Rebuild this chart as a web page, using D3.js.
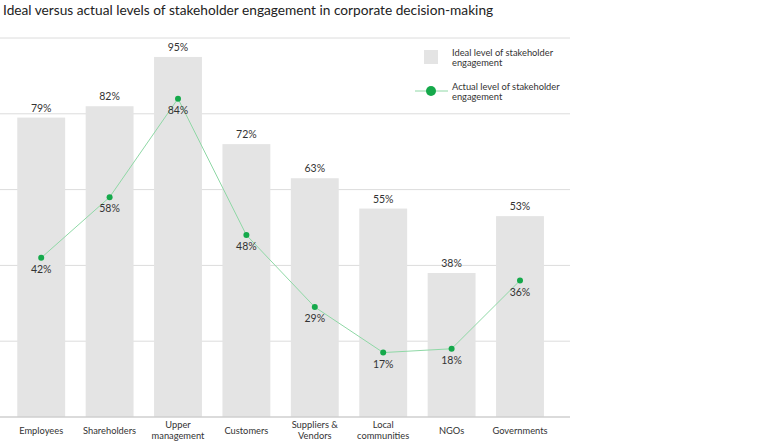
<!DOCTYPE html>
<html><head><meta charset="utf-8">
<script src="https://cdn.jsdelivr.net/npm/d3@7"></script>
<style>body{margin:0;background:#fff;} text{font-family:"Lato","Open Sans",sans-serif;}</style>
</head><body><svg id="c" width="772" height="443"></svg>
<script>
const categories = ["Employees","Shareholders","Upper\nmanagement","Customers","Suppliers &\nVendors","Local\ncommunities","NGOs","Governments"];
const idealValues = [79,82,95,72,63,55,38,53];
const actualValues = [42,58,84,48,29,17,18,36];
const yTicks = [0,20,40,60,80,100];
const title = "Ideal versus actual levels of stakeholder engagement in corporate decision-making";
const legendLabels = ["Ideal level of stakeholder\nengagement","Actual level of stakeholder\nengagement"];

const svg = d3.select("#c");
const x = d3.scaleBand().domain(categories).range([7,554.2]).paddingInner(0.3).paddingOuter(0.15);
const y = d3.scaleLinear().domain([0,100]).range([417,38]);

svg.append("text").attr("x",3).attr("y",15).attr("font-size",13.7).attr("fill","#222").text(title);

// gridlines
svg.append("g").selectAll("line").data(yTicks.filter(d=>d>0)).join("line")
  .attr("x1",0).attr("x2",570).attr("y1",d=>y(d)).attr("y2",d=>y(d))
  .attr("stroke","#dcdcdc").attr("stroke-width",1);

// bars
svg.append("g").selectAll("rect").data(idealValues).join("rect")
  .attr("x",(d,i)=>x(categories[i])).attr("width",x.bandwidth())
  .attr("y",d=>y(d)).attr("height",d=>y(0)-y(d)).attr("fill","#e4e4e4");

// baseline
svg.append("line").attr("x1",0).attr("x2",570).attr("y1",y(0)).attr("y2",y(0)).attr("stroke","#cfcfcf").attr("stroke-width",1.5);

// bar labels
svg.append("g").selectAll("text").data(idealValues).join("text")
  .attr("x",(d,i)=>x(categories[i])+x.bandwidth()/2).attr("y",d=>y(d)-6)
  .attr("text-anchor","middle").attr("font-size",10.5).attr("fill","#333").text(d=>d+"%");

// line
const cx = i=>x(categories[i])+x.bandwidth()/2;
svg.append("path").datum(actualValues)
  .attr("d",d3.line().x((d,i)=>cx(i)).y(d=>y(d)))
  .attr("fill","none").attr("stroke","#8fd8a6").attr("stroke-width",1);
svg.append("g").selectAll("circle").data(actualValues).join("circle")
  .attr("cx",(d,i)=>cx(i)).attr("cy",d=>y(d)).attr("r",3).attr("fill","#15a94b");
svg.append("g").selectAll("text").data(actualValues).join("text")
  .attr("x",(d,i)=>cx(i)).attr("y",d=>y(d)+15)
  .attr("text-anchor","middle").attr("font-size",10.5).attr("fill","#333").text(d=>d+"%");

// x labels (one text element per line)
const xg = svg.append("g");
categories.forEach(d=>{
  const lines = d.split("\n");
  const y0 = lines.length===1 ? 433.5 : 428;
  lines.forEach((l,j)=>xg.append("text").attr("x",x(d)+x.bandwidth()/2).attr("y",y0+j*10.5)
    .attr("text-anchor","middle").attr("font-size",9.3).attr("fill","#333").text(l));
});

// legend
const lg = svg.append("g");
lg.append("rect").attr("x",424).attr("y",50).attr("width",14).attr("height",14).attr("fill","#e4e4e4");
lg.append("line").attr("x1",415).attr("x2",448).attr("y1",91).attr("y2",91).attr("stroke","#8fd8a6").attr("stroke-width",1);
lg.append("circle").attr("cx",431).attr("cy",91).attr("r",5).attr("fill","#15a94b");
legendLabels.forEach((lab,i)=>{
  lab.split("\n").forEach((l,j)=>lg.append("text").attr("x",452).attr("y",(i===0?56:90)+j*9.5)
    .attr("font-size",9.3).attr("fill","#333").text(l));
});
</script></body></html>
